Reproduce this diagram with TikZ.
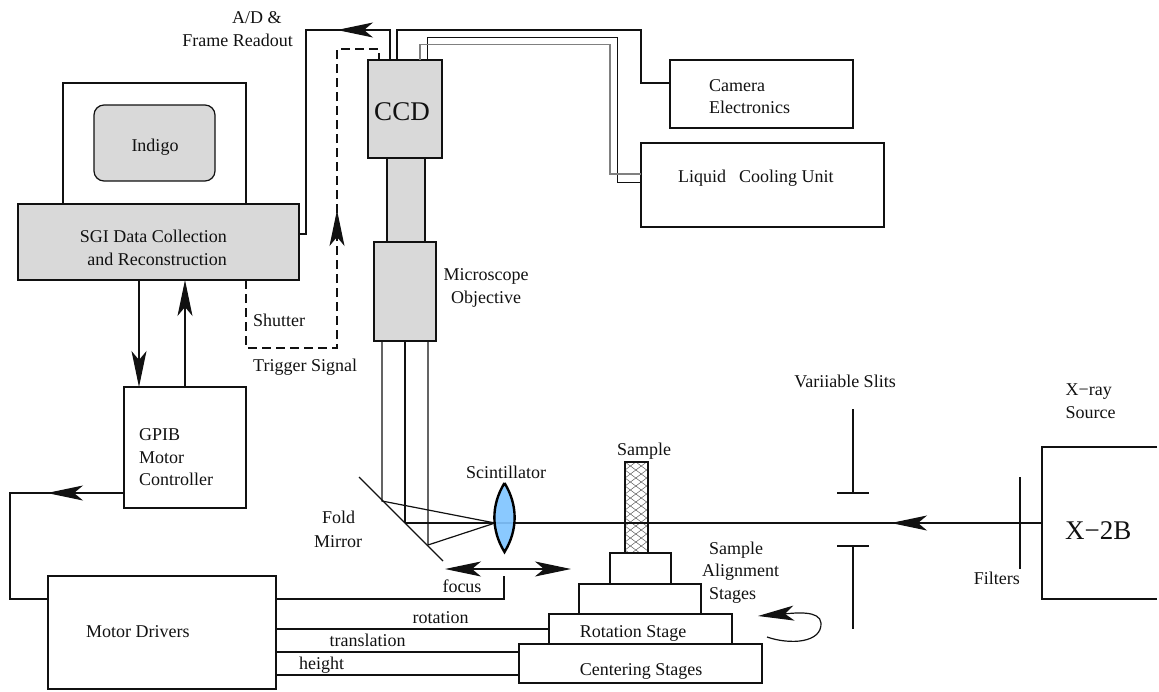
\documentclass[tikz,border=0pt]{standalone}
\usepackage{fontspec}
\setmainfont{Liberation Serif}
\usetikzlibrary{arrows.meta,decorations.markings}
\definecolor{boxgray}{HTML}{D9D9D9}
\definecolor{lensblue}{HTML}{80C4FF}
\definecolor{inkc}{HTML}{111111}
\tikzset{
  line/.style={draw=inkc,line width=1.2pt},
  bigtip/.tip={Stealth[length=36pt,width=15pt,inset=9pt]},
  tipat/.style={postaction={decorate},decoration={markings,mark=at position #1 with {\arrow{bigtip}}}},
  lab/.style={inner sep=0pt,text height=12pt,text depth=4pt,yshift=-2pt,font=\fontsize{18}{20}\selectfont,text=inkc},
  biglab/.style={inner sep=0pt,font=\fontsize{27}{30}\selectfont,text=inkc},
}
% name, x1, y1, x2, y2, extra style
\newcommand{\bx}[6]{\node[line,inner sep=0pt,outer sep=0pt,minimum width={(#4-#2)*1pt},minimum height={(#5-#3)*1pt},#6] (#1) at ({(#2+#4)/2},{(#3+#5)/2}) {};}
\begin{document}
\begin{tikzpicture}[x=1pt,y=-1pt]
\useasboundingbox (0,0) rectangle (1159,691);
% --- boxes
\bx{monitor}{63}{83}{246}{204}{}
\bx{indigo}{94}{105}{215}{181}{fill=boxgray,rounded corners=10pt}
\bx{sgi}{18}{204}{299}{280}{fill=boxgray}
\bx{gpib}{124}{387}{246}{508}{}
\bx{drivers}{48}{576}{276}{689}{}
\bx{tube}{387}{158}{425}{242}{fill=boxgray}
\bx{ccd}{368}{60}{442}{158}{fill=boxgray}
\bx{objective}{374}{242}{436}{341}{fill=boxgray}
\bx{camera}{670}{60}{853}{128}{}
\bx{cooling}{641}{143}{884}{227}{}
\bx{stageA}{610}{553}{671}{584}{}
\bx{stageB}{579}{584}{701}{614}{}
\bx{rotstage}{549}{614}{732}{644}{}
\bx{censtage}{519}{644}{762}{683}{}
% X-ray source: box runs off the page edge, three sides shown
\node[inner sep=0pt,outer sep=0pt,minimum width=115pt,minimum height=152pt] (source) at (1099.5,523) {};
\draw[line] (source.north east) -- (source.north west) -- (source.south west) -- (source.south east);
\draw[line,line width=1.7pt] (63,576) -- (117,576);
% --- sample with mesh
\bx{sample}{625}{462}{648}{553}{fill=white}
\begin{scope}
\clip (625,462) rectangle (648,553);
\foreach \i in {-2,...,12}{
  \draw[gray!75!black,line width=.5pt] (625,462+8*\i) -- (648,462+8*\i+17);
  \draw[gray!75!black,line width=.5pt] (625,462+8*\i) -- (648,462+8*\i-17);
}
\end{scope}
\draw[line] (sample.north west) rectangle (sample.south east);
% --- free points
\coordinate (m1) at (382,501);
\coordinate (m2) at (405,523);
\coordinate (m3) at (428,545);
\coordinate (lensF) at (495,523);
\coordinate (mirA) at (359,477);
\coordinate (mirB) at (443,561);
\coordinate (focL) at (445,569);
\coordinate (focR) at (571,569);
\coordinate (focE) at (504,576);
\coordinate (curveA) at (767,637);
\coordinate (curveB) at (758,616);
\coordinate (slitUa) at (853,409);
\coordinate (slitUb) at (853,493);
\coordinate (slitLa) at (853,546);
\coordinate (slitLb) at (853,629);
\coordinate (filtA) at (1020,477);
\coordinate (filtB) at (1020,569);
% --- connectors
\draw[line,tipat=83pt] (ccd.north -| 390,0) -- (390,30) -- (306,30) -- (306,234) -- (sgi.east |- 0,234);
\draw[line,dash pattern=on 9pt off 5pt,tipat=297pt] (sgi.south -| 246,0) -- (246,348) -- (337,348) -- (337,49) -- (379,49) -- (ccd.north -| 379,0);
\draw[line] (ccd.north -| 397,0) -- (397,30) -- (641,30) -- (641,83) -- (camera.west |- 0,83);
\draw[draw=inkc,line width=1pt] (ccd.north -| 427,0) -- (427,37) -- (617,37) -- (617,182) -- (cooling.west |- 0,182);
\draw[draw=gray,line width=1.2pt] (ccd.north -| 420,0) -- (420,44.5) -- (610,44.5) -- (610,174) -- (cooling.west |- 0,174);
\draw[line,-{bigtip}] (sgi.south -| 139,0) -- (gpib.north -| 139,0);
\draw[line,-{bigtip}] (gpib.north -| 185,0) -- (sgi.south -| 185,0);
\draw[line,tipat=77pt] (gpib.west |- 0,493) -- (10,493) -- (10,599) -- (drivers.west |- 0,599);
\draw[line] (drivers.east |- 0,599) -- (504,599) -- (focE);
\draw[line] (drivers.east |- 0,629) -- (rotstage.west |- 0,629);
\draw[line] (drivers.east |- 0,652) -- (censtage.west |- 0,652);
\draw[line] (drivers.east |- 0,675) -- (censtage.west |- 0,675);
\draw[line,{bigtip}-{bigtip}] (focL) -- (focR);
% --- optics
\draw[line] (objective.south -| m1) -- (m1) -- (lensF);
\draw[line] (objective.south -| m2) -- (m2);
\draw[line] (objective.south -| m3) -- (m3) -- (lensF);
\draw[line] (mirA) -- (mirB);
\draw[line,tipat=151pt] (source.west) -- (m2);
\draw[draw=black,line width=2.4pt,fill=lensblue,fill opacity=.92,line join=miter] (504.5,483) .. controls (491,505) and (491,530) .. (504.5,552) .. controls (518,530) and (518,505) .. (504.5,483);
\draw[line] (slitUa) -- (slitUb);
\draw[line] (837,493) -- (869,493);
\draw[line] (837,546) -- (869,546);
\draw[line] (slitLa) -- (slitLb);
\draw[line] (filtA) -- (filtB);
\draw[line,-{bigtip}] (curveA) .. controls (790,645) and (822,643) .. (821,623) .. controls (820,610) and (795,613) .. (curveB);
% --- labels
\node[lab,anchor=west] (l1) at (232,17) {A/D \&};
\node[lab,anchor=east] (l2) at (293,40) {Frame Readout};
\node[biglab] (l3) at (402,112) {CCD};
\node[lab] (l4) at (155,145) {Indigo};
\node[lab,anchor=east] (l5) at (227,236) {SGI Data Collection};
\node[lab,anchor=east] (l6) at (227,259) {and Reconstruction};
\node[lab,anchor=west] (l7) at (253,320) {Shutter};
\node[lab,anchor=west] (l8) at (253,365) {Trigger Signal};
\node[lab] (l9) at (486,274) {Microscope};
\node[lab] (l10) at (486,297) {Objective};
\node[lab,anchor=west] (l11) at (139,434) {GPIB};
\node[lab,anchor=west] (l12) at (139,457) {Motor};
\node[lab,anchor=west] (l13) at (139,479) {Controller};
\node[lab] (l14) at (506,472) {Scintillator};
\node[lab] (l15) at (644,449) {Sample};
\node[lab,anchor=west] (l16) at (322,517) {Fold};
\node[lab,anchor=west] (l17) at (314,541) {Mirror};
\node[lab,anchor=west] (l18) at (709,548) {Sample};
\node[lab,anchor=west] (l19) at (702,570) {Alignment};
\node[lab,anchor=west] (l20) at (709,593) {Stages};
\node[lab] (l21) at (633,631) {Rotation Stage};
\node[lab] (l22) at (641,669) {Centering Stages};
\node[lab,anchor=west] (l23) at (86,631) {Motor Drivers};
\node[lab] (l24) at (440.5,617) {rotation};
\node[lab] (l25) at (367.5,640) {translation};
\node[lab] (l26) at (321.5,663) {height};
\node[lab] (l27) at (462,586) {focus};
\node[lab,anchor=west] (l28) at (709,85) {Camera};
\node[lab,anchor=west] (l29) at (709,107) {Electronics};
\node[lab,anchor=west] (l30) at (678,176) {Liquid\hspace{.72em}Cooling Unit};
\node[lab] (l31) at (845,381) {Variiable Slits};
\node[lab,anchor=west] (l32) at (1065.5,389) {X−ray};
\node[lab,anchor=west] (l33) at (1065.5,412) {Source};
\node[lab,anchor=east] (l34) at (1020,578) {Filters};
\node[biglab,anchor=west] (l35) at (1065,531) {X−2B};
\end{tikzpicture}
\end{document}
